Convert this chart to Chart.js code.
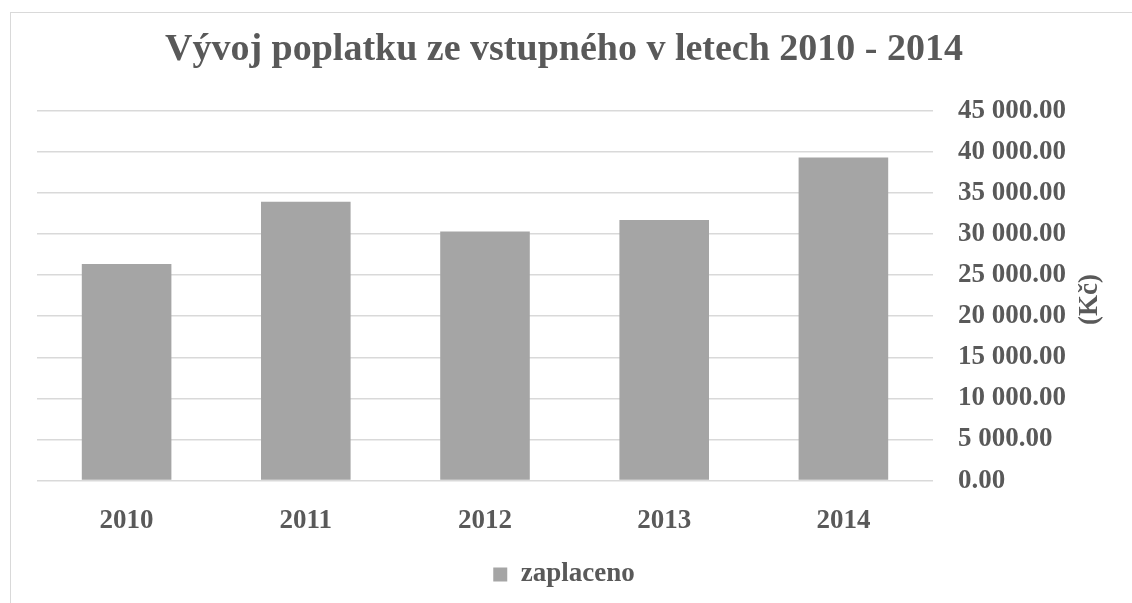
<!DOCTYPE html>
<html>
<head>
<meta charset="utf-8">
<script src="https://cdn.jsdelivr.net/npm/chart.js@4"></script>
<style>
  html, body { margin: 0; padding: 0; background: #fff; }
  body { width: 1132px; height: 603px; position: relative; overflow: hidden; }
  .frame { position: absolute; left: 10px; top: 12px; width: 1200px; height: 700px; border: 1px solid #d9d9d9; box-sizing: border-box; }
  .wrap { position: absolute; left: 0; top: 0; width: 1132px; height: 603px; }
</style>
</head>
<body>
<div class="frame"></div>
<div class="wrap"><canvas id="chart"></canvas></div>
<script>
// Data
const years = ['2010', '2011', '2012', '2013', '2014'];
const zaplaceno = [26350, 33900, 30300, 31700, 39300];
const yTicks = [0, 5000, 10000, 15000, 20000, 25000, 30000, 35000, 40000, 45000];

const FONT = "'Liberation Serif', 'Times New Roman', serif";
const TEXT = '#595959';

// "45 000.00" style
function formatKc(v) {
    const parts = Number(v).toFixed(2).split('.');
    parts[0] = parts[0].replace(/\B(?=(\d{3})+(?!\d))/g, ' ');
    return parts.join('.');
}

// y axis title on the right, reading bottom to top
const axisTitle = {
    id: 'axisTitle',
    afterDraw(chart) {
        const y = chart.scales.y;
        const ctx = chart.ctx;
        ctx.save();
        ctx.translate(chart.width - 42, (y.top + y.bottom) / 2 + 4);
        ctx.rotate(-Math.PI / 2);
        ctx.font = 'bold 27px ' + FONT;
        ctx.fillStyle = TEXT;
        ctx.textAlign = 'center';
        ctx.textBaseline = 'middle';
        ctx.fillText('(Kč)', 0, 0);
        ctx.restore();
    }
};

Chart.defaults.font.family = FONT;
Chart.defaults.color = TEXT;

new Chart(document.getElementById('chart'), {
    type: 'bar',
    data: {
        labels: years,
        datasets: [{
            label: 'zaplaceno',
            data: zaplaceno,
            backgroundColor: '#a5a5a5',
            borderWidth: 0,
            barPercentage: 0.5,
            categoryPercentage: 1
        }]
    },
    options: {
        responsive: true,
        maintainAspectRatio: false,
        animation: false,
        layout: { padding: { left: 37, right: 41, top: 0, bottom: 5 } },
        plugins: {
            title: {
                display: true,
                text: 'Vývoj poplatku ze vstupného v letech 2010 - 2014',
                font: { size: 38, weight: 'bold' },
                color: TEXT,
                padding: { top: 27, bottom: 38 }
            },
            legend: {
                position: 'bottom',
                labels: {
                    boxWidth: 14,
                    boxHeight: 14,
                    padding: 0,
                    font: { size: 27, weight: 'bold' },
                    color: TEXT
                }
            },
            tooltip: { enabled: false }
        },
        scales: {
            x: {
                grid: { display: false, drawTicks: false },
                border: { display: false },
                ticks: { font: { size: 27, weight: 'bold' }, color: TEXT, padding: 24 }
            },
            y: {
                position: 'right',
                min: 0,
                max: 45000,
                afterBuildTicks(scale) {
                    scale.ticks = yTicks.map(v => ({ value: v }));
                },
                grid: { color: '#d9d9d9', lineWidth: 1.5, drawTicks: false },
                border: { display: false },
                ticks: {
                    font: { size: 27, weight: 'bold' },
                    color: TEXT,
                    padding: 25,
                    callback: v => formatKc(v)
                }
            }
        }
    },
    plugins: [axisTitle]
});
</script>
</body>
</html>
